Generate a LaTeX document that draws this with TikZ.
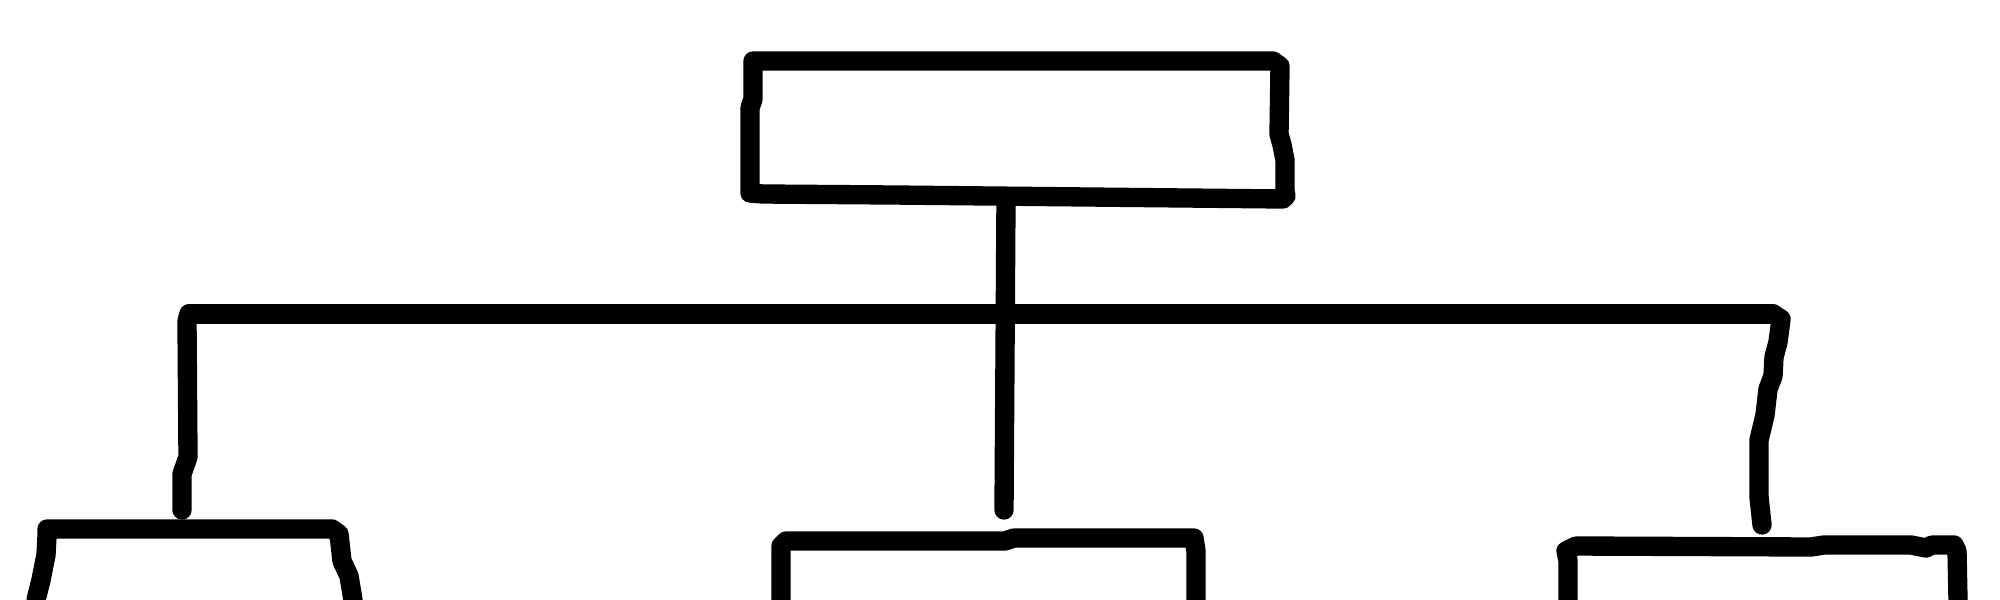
\documentclass[tikz,border=0pt]{standalone}
\usepackage{xcolor}
\definecolor{inkblack}{RGB}{0,0,0}
\usepackage{tikz}

\begin{document}
\begin{tikzpicture}[x=0.01cm,y=-0.01cm,
    pen/.style={color=inkblack, line width=5.5pt, line cap=round, line join=round}]
\useasboundingbox (0,0) rectangle (2000,600);
% top box
\draw[pen] (753,61) -- (1273,61) -- (1280,66) -- (1279,134) -- (1282,145)
    -- (1285,160) -- (1285,191) -- (1286,196) -- (1283,199) -- (893,195)
    -- (763,194) -- (750,193) -- (750,108) -- (753,99) -- cycle;
% named ends of the connectors
\coordinate (rootfoot) at (1006,199);
\coordinate (midfoot) at (1004,510);
\coordinate (busleft) at (189,314);
\coordinate (busright) at (1773,314);
\coordinate (leftfoot) at (182,510);
\coordinate (rightfoot) at (1762,525);
\draw[pen] (rootfoot) -- (midfoot);
\draw[pen] (busleft) -- (busright);
\draw[pen] (busleft) -- (187,321) -- (188,457) -- (182,474) -- (leftfoot);
\draw[pen] (busright) -- (1781,319) -- (1778,342) -- (1774,357) -- (1773,376)
    -- (1768,389) -- (1765,415) -- (1759,440) -- (1759,497) -- (rightfoot);
% lower left box
\draw[pen] (36,600) -- (41,580) -- (46,555) -- (47,536) -- (47,529)
    -- (332,529) -- (339,534) -- (342,561) -- (349,576) -- (353,600);
% lower middle box
\draw[pen] (781,600) -- (781,546) -- (786,541) -- (1005,541) -- (1014,538)
    -- (1180,538) -- (1194,538) -- (1196,551) -- (1196,600);
% lower right box
\draw[pen] (1568,600) -- (1568,561) -- (1566,551) -- (1576,546) -- (1811,547)
    -- (1824,545) -- (1911,545) -- (1926,548) -- (1932,545) -- (1954,545)
    -- (1957,551) -- (1958,600);
\end{tikzpicture}
\end{document}
